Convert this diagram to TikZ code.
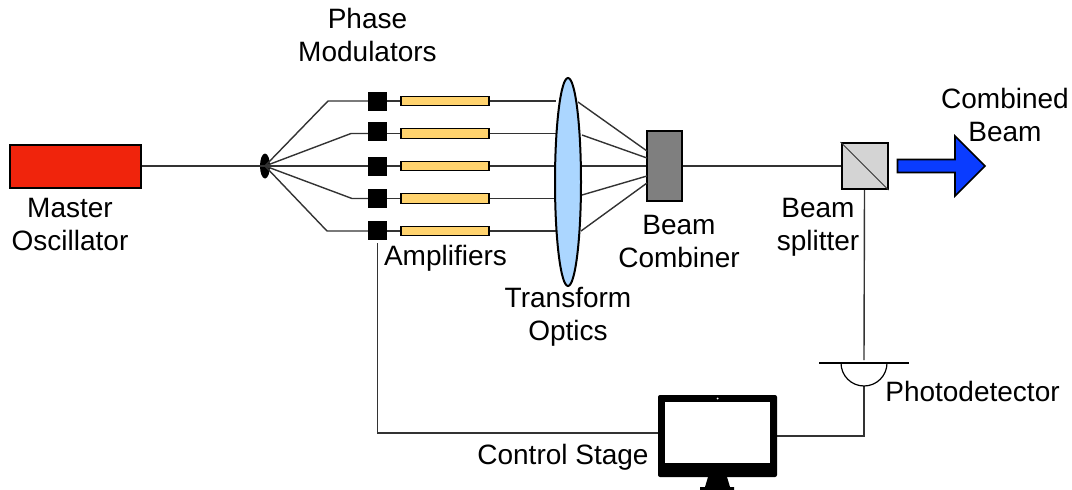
\documentclass[tikz,border=0pt]{standalone}
\usepackage{fontspec}
\usetikzlibrary{shapes.geometric}
\setmainfont{Liberation Sans}
\definecolor{wire}{HTML}{333333}
\definecolor{oscred}{HTML}{F0240C}
\definecolor{ampyellow}{HTML}{FFD36E}
\definecolor{lensblue}{HTML}{ABD6FF}
\definecolor{combgray}{HTML}{7F7F7F}
\definecolor{splitgray}{HTML}{D4D4D4}
\definecolor{beamblue}{HTML}{0A3CFF}
\tikzset{
  x=1pt,y=-1pt,
  wirepath/.style={draw=wire,line width=1.4pt},
  lbl/.style={inner sep=0pt,outer sep=0pt,anchor=base,font=\fontsize{28}{33}\selectfont,align=center,text=black},
  modbox/.style={fill=black,draw=none,minimum width=19pt,minimum height=19pt,inner sep=0pt},
  ampbox/.style={fill=ampyellow,draw=black,line width=1.2pt,minimum width=88pt,minimum height=9.5pt,inner sep=0pt},
}
\begin{document}
\begin{tikzpicture}
\useasboundingbox (0,0) rectangle (1072,490);
% wire anchors
\coordinate (b1) at (328,101);
\coordinate (b2) at (351,133.5);
\coordinate (b4) at (352,198.5);
\coordinate (b5) at (327,231);
\coordinate (det) at (864,360);
\coordinate (detb) at (864,386);
\coordinate (cor) at (864,436);
\coordinate (mleft) at (658,433);
\coordinate (mright) at (777,436);
\coordinate (fb) at (377.5,433);
\coordinate (fbs) at (377.5,243);
% nodes
\node[fill=oscred,draw=black,line width=2pt,minimum width=131pt,minimum height=43pt,inner sep=0pt] (osc) at (75.5,166) {};
\node[ellipse,fill=black,minimum width=10pt,minimum height=25pt,inner sep=0pt] (split) at (265,166) {};
\node[fill=combgray,draw=black,line width=2pt,minimum width=35pt,minimum height=70pt,inner sep=0pt] (comb) at (664.5,166) {};
\node[fill=splitgray,draw=black,line width=2pt,minimum width=46pt,minimum height=46pt,inner sep=0pt] (bs) at (864.5,166) {};
% wires
\draw[wirepath] (osc.east) -- (split.center);
\foreach \n/\y/\ly in {1/101.5/101,2/131.5/133.5,3/166.5/166,4/198.5/198.5,5/230.5/231}{
  \coordinate (w\n) at (377.5,\ly);
  \coordinate (e\n) at (556,\ly);
  \draw[wirepath] (w\n) -- (e\n);
}
\draw[wirepath] (split.center) -- (b1) -- (w1);
\draw[wirepath] (split.center) -- (b2) -- (w2);
\draw[wirepath] (split.center) -- (w3);
\draw[wirepath] (split.center) -- (b4) -- (w4);
\draw[wirepath] (split.center) -- (b5) -- (w5);
\foreach \n/\y/\ly in {1/101.5/101,2/131.5/133.5,3/166.5/166,4/198.5/198.5,5/230.5/231}{
  \node[modbox] (m\n) at (377.5,\y) {};
  \node[ampbox] (a\n) at (445,\ly) {};
}
\node[ellipse,fill=lensblue,draw=black,line width=2pt,minimum width=26pt,minimum height=208pt,inner sep=0pt] (lens) at (568,182) {};
\draw[wirepath] (578,102) -- (647,151);
\draw[wirepath] (582,135) -- (647,158);
\draw[wirepath] (581.5,166) -- (comb.west);
\draw[wirepath] (582,195) -- (647,176);
\draw[wirepath] (581,231) -- (647,183);
\draw[wirepath] (comb.east) -- (bs.west);
\draw[line width=1pt,draw=wire] (bs.north west) -- (bs.south east);
\draw[wirepath] (bs.south) -- (det);
\draw[wirepath] (detb) -- (cor) -- (mright);
\draw[wirepath] (fbs) -- (fb) -- (mleft);
% detector
\draw[black,line width=1.2pt] (819,363) -- (909,363);
\draw[black,line width=1.2pt] (841,363) arc[start angle=180,end angle=0,radius=23];
% arrow
\draw[fill=beamblue,draw=black,line width=1.6pt,line join=miter] (897.5,159.5) -- (955,159.5) -- (955,136) -- (985,166) -- (955,196) -- (955,172.5) -- (897.5,172.5) -- cycle;
% monitor
\fill[black,rounded corners=2pt] (658,395) rectangle (777,477);
\fill[white] (664.5,402) rectangle (770,463);
\fill[white] (717.5,398.5) circle (1pt);
\fill[black] (708,477) -- (727,477) -- (730,487) -- (734,487) -- (734,490) -- (700,490) -- (700,487) -- (705,487) -- cycle;
% labels
\node[lbl] (t1) at (70,250) {Master\\Oscillator};
\node[lbl] (t2) at (367.5,61) {Phase\\Modulators};
\node[lbl] (t3) at (445.5,265) {Amplifiers};
\node[lbl] (t4) at (568,340) {Transform\\Optics};
\node[lbl] (t5) at (679,267) {Beam\\Combiner};
\node[lbl] (t6) at (1005,141) {Combined\\Beam};
\node[lbl] (t7) at (818,250) {Beam\\splitter};
\node[lbl] (t8) at (972.5,401) {Photodetector};
\node[lbl] (t9) at (563,464) {Control Stage};
\end{tikzpicture}
\end{document}
